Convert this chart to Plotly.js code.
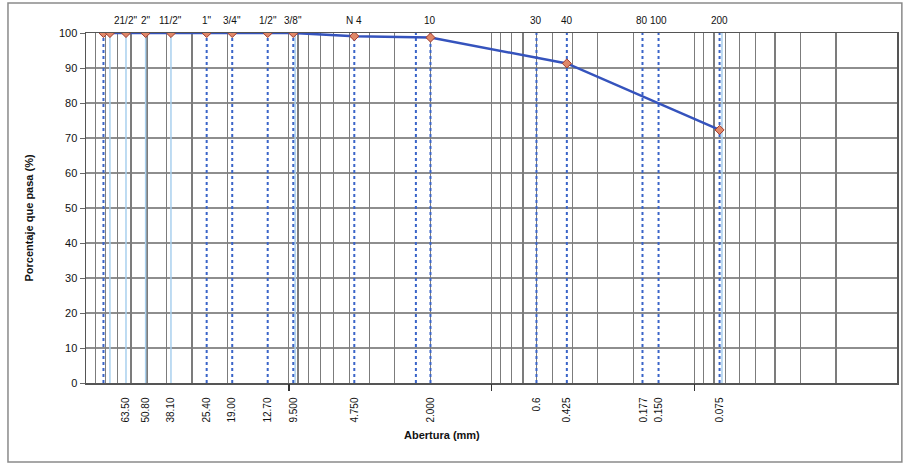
<!DOCTYPE html>
<html><head><meta charset="utf-8">
<script src="https://cdn.plot.ly/plotly-3.0.1.min.js"></script>
<style>html,body{margin:0;padding:0;background:#fff}#chart{width:906px;height:468px}</style>
</head><body><div id="chart"></div>
<script>
// Curve data: sieve opening (mm) and percent passing
const aberturaMm = [82, 76.2, 63.5, 50.8, 38.1, 25.4, 19.0, 12.7, 9.5, 4.75, 2.0, 0.425, 0.075];
const pasaPct   = [100, 100, 100, 100, 100, 100, 100, 100, 100, 99.1, 98.7, 91.3, 72.3];
// Sieve reference lines
const dottedSieves = [82, 25.4, 19.0, 12.7, 9.5, 4.75, 2.36, 2.0, 0.6, 0.425, 0.18, 0.15, 0.075];
const lightSieves  = [76.2, 63.5, 50.8, 38.1, 9.3, 0.073];
// Top sieve names
const sieveNames = ['21/2"', '2"', '11/2"', '1"', '3/4"', '1/2"', '3/8"', 'N 4', '10', '30', '40', '80', '100', '200'];
const sieveNameMm = [63.5, 50.8, 38.1, 25.4, 19.0, 12.7, 9.5, 4.75, 2.0, 0.6, 0.425, 0.18, 0.15, 0.075];
// Bottom tick labels
const tickMm = [63.5, 50.8, 38.1, 25.4, 19.0, 12.7, 9.5, 4.75, 2.0, 0.6, 0.425, 0.177, 0.15, 0.075];
const tickText = ['63.50', '50.80', '38.10', '25.40', '19.00', '12.70', '9.500', '4.750', '2.000', '0.6', '0.425', '0.177', '0.150', '0.075'];

function vlines(arr){ const x=[],y=[]; arr.forEach(v=>{x.push(v,v,null);y.push(0,100,null);}); return {x,y}; }
const dv = vlines(dottedSieves), lv = vlines(lightSieves);

const FONT = 'Liberation Sans, Arial, sans-serif';
const traces = [
  {x:[1,1], y:[0,0], xaxis:'x2', yaxis:'y', mode:'lines', line:{width:0}, hoverinfo:'skip', showlegend:false},
  {x:[1,1], y:[0,0], xaxis:'x3', yaxis:'y', mode:'lines', line:{width:0}, hoverinfo:'skip', showlegend:false},
  {x:lv.x, y:lv.y, mode:'lines', line:{color:'#a9d0ee', width:1.5}, hoverinfo:'skip', showlegend:false},
  {x:dv.x, y:dv.y, mode:'lines', line:{color:'#3a64c8', width:2, dash:'dot'}, hoverinfo:'skip', showlegend:false},
  {x:aberturaMm, y:pasaPct, mode:'lines+markers', line:{color:'#3553bd', width:2.5},
   marker:{symbol:'diamond', size:7, color:'#e08868', line:{color:'#a33a2c', width:1}}, showlegend:false}
];

const annotations = sieveNames.map((t,i)=>({
  x: Math.log10(sieveNameMm[i]), xref:'x', y:1, yref:'paper', yanchor:'bottom', yshift:5,
  text:t, showarrow:false, font:{family:FONT, size:10, color:'#111'}
}));
annotations.push({x:0.439, y:-0.172, xref:'paper', yref:'paper', text:'<b>Abertura (mm)</b>', showarrow:false,
  font:{family:FONT, size:11, color:'#111'}});
annotations.push({x:-0.0715, y:0.47, xref:'paper', yref:'paper', xanchor:'center', text:'<b>Porcentaje que pasa (%)</b>', textangle:-90,
  showarrow:false, font:{family:FONT, size:11, color:'#111'}});

const xr = [2, -2];
const layout = {
  width:906, height:468,
  margin:{l:86, r:9, t:33, b:85},
  paper_bgcolor:'#fff', plot_bgcolor:'#fff',
  font:{family:FONT, size:10, color:'#111'},
  xaxis:{type:'log', range:xr, tickmode:'array', tickvals:tickMm, ticktext:tickText, tickangle:-90,
    ticks:'', showgrid:false, zeroline:false, showline:true, linecolor:'#555', linewidth:1.5, mirror:true,
    tickfont:{family:FONT, size:10, color:'#111'}, ticklabelstandoff:9},
  xaxis2:{type:'log', range:xr, overlaying:'x', dtick:'D1', showgrid:true, gridcolor:'#7c7c7c', gridwidth:1.2,
    showticklabels:false, ticks:'', showline:false, zeroline:false},
  xaxis3:{type:'log', range:xr, overlaying:'x', tickmode:'array', tickvals:[10,1,0.1], ticks:'outside', ticklen:7,
    tickwidth:1.5, tickcolor:'#333', showgrid:false, showticklabels:false, showline:false, zeroline:false},
  yaxis:{range:[0,100], dtick:10, ticks:'outside', ticklen:5, tickcolor:'#666', showgrid:true, gridcolor:'#8e8e8e',
    gridwidth:1.2, zeroline:false, showline:true, linecolor:'#555', linewidth:1.5, mirror:true,
    tickfont:{family:FONT, size:11, color:'#111'}},
  annotations:annotations,
  shapes:[{type:'rect', xref:'paper', yref:'paper', x0:-0.0962, x1:1.006, y0:-0.226, y1:1.086,
    line:{color:'#8a8a8a', width:1.5}}],
  showlegend:false
};
Plotly.newPlot('chart', traces, layout, {staticPlot:true});
</script></body></html>
